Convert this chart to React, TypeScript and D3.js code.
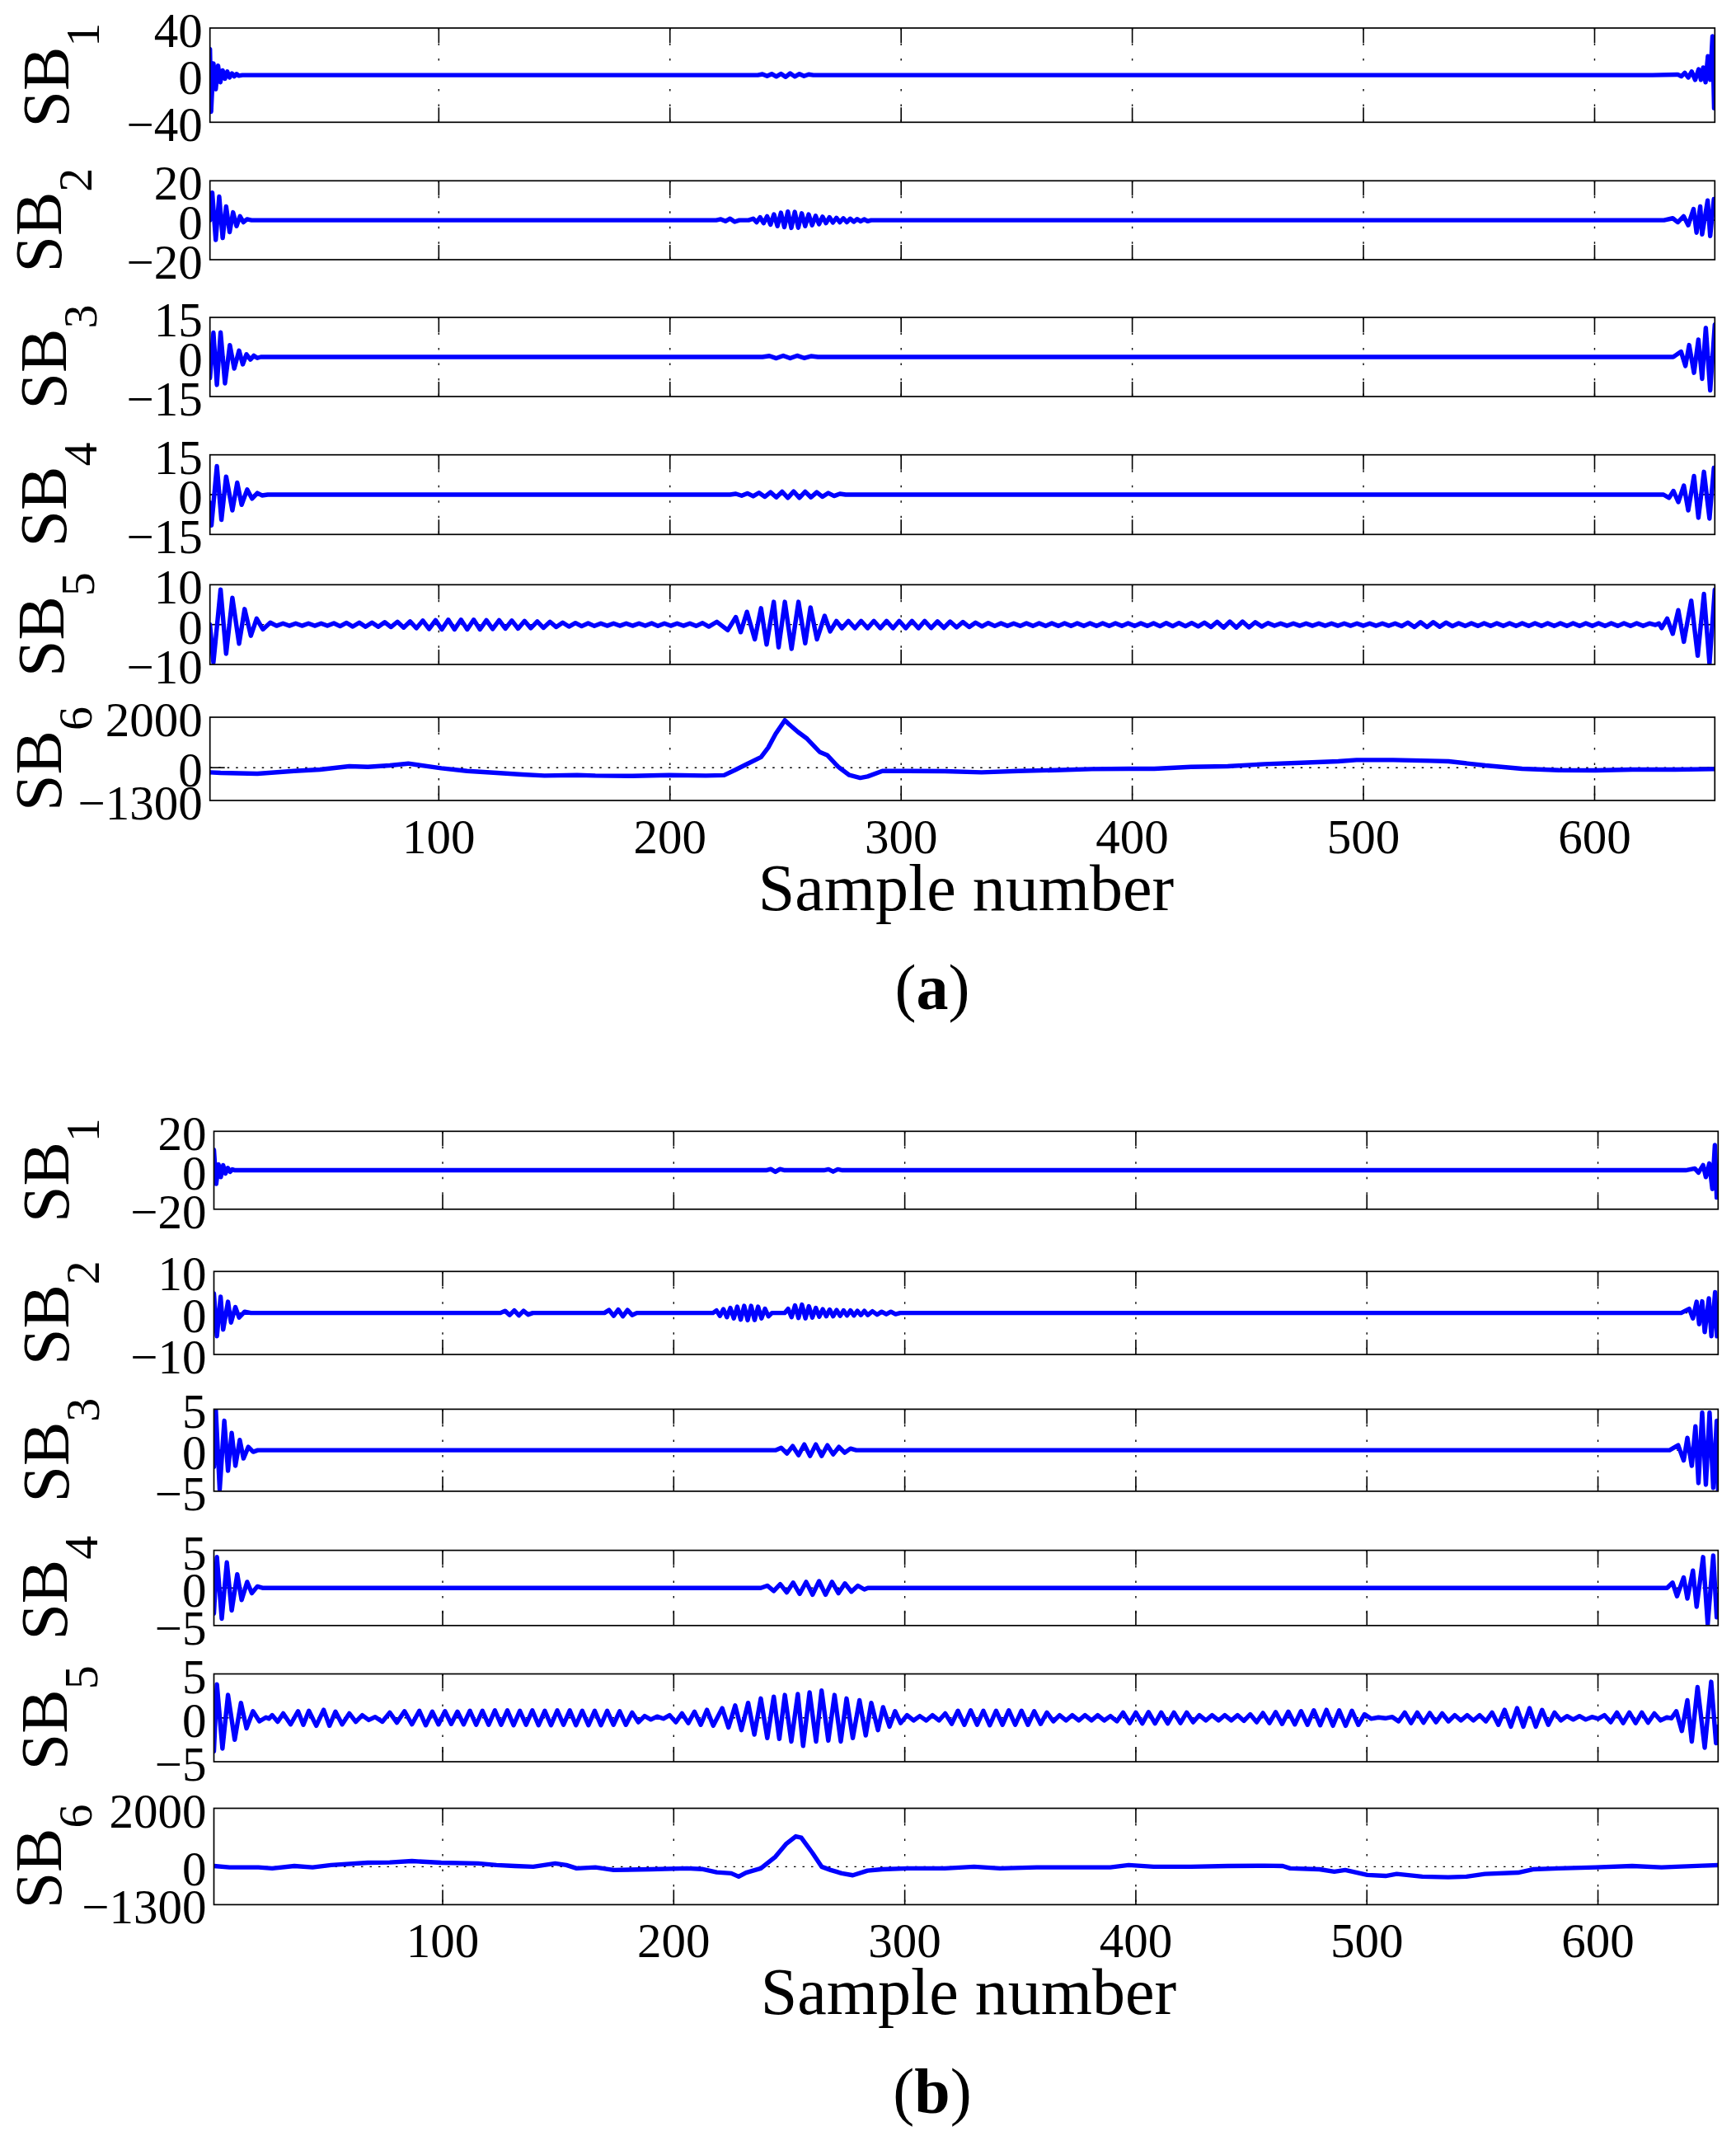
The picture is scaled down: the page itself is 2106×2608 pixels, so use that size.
import * as d3 from 'd3';

type Pt = [number, number];

const sampleTicks = [100, 200, 300, 400, 500, 600];
const sampleDomain: [number, number] = [1, 652];
const bandIndex = ['1', '2', '3', '4', '5', '6'];
const limitsA: [number, number][] = [[-40, 40], [-20, 20], [-15, 15], [-15, 15], [-10, 10], [-1300, 2000]];
const limitsB: [number, number][] = [[-20, 20], [-10, 10], [-5, 5], [-5, 5], [-5, 5], [-1300, 2000]];

// ---- panel (a): sub-band signals, turning points ----
const sb1A: Pt[] = [
  [1, 22], [1.5, -31], [2.5, 10], [3.5, -12], [4.5, 8], [5.5, -6], [6.5, 4], [7.5, -3], [8.5, 3], [9.5, -2],
  [10.5, 1.5], [11.5, -1], [12.5, 1], [13.5, -0.5], [15, 0],
  [238, 0], [240, 0.8], [242, -0.8], [244, 1], [246, -1.2], [248, 1.2], [250, -1.5], [252, 1.5], [254, -1.2],
  [256, 1], [258, -0.8], [260, 0.6], [262, 0],
  [625, 0], [636, 0.5], [637.5, -1], [639, 2], [640.5, -2], [642, 3], [643.5, -4], [645, 5], [646, -4],
  [647, 6.5], [648, -6], [649, 16], [650, -4], [651, 33], [651.7, -28], [652, -10],
];
const sb2A: Pt[] = [
  [1, 0], [2, 14], [3.5, -10], [5, 12], [6.5, -9], [8, 7], [9.5, -6], [11, 4], [12.5, -3], [14, 2], [15.5, -1],
  [17, 0.5], [19, 0],
  [220, 0], [222, 0.5], [224, -0.5], [226, 0.8], [228, -0.8], [230, 0], [234, 0], [236, 0.8], [237.5, -1],
  [239, 1.5], [240.5, -1.5], [242, 2], [243.5, -2.2], [245, 3], [246.5, -3], [248, 3.8], [249.5, -3.5],
  [251, 4.4], [252.5, -3.9], [254, 4.2], [255.5, -3.8], [257, 3.5], [258.5, -3], [260, 3], [261.5, -2.5],
  [263, 2.2], [264.5, -2], [266, 1.8], [267.5, -1.5], [269, 1.5], [270.5, -1.2], [272, 1.2], [273.5, -1],
  [275, 1], [276.5, -1], [278, 0.8], [279.5, -0.8], [281, 0.6], [282.5, -0.6], [284, 0.5], [285.5, -0.5], [287, 0],
  [630, 0], [633.8, 1], [636, -1], [638.5, 2], [640.5, -2.5], [642.8, 5.7], [644.1, -6.3], [645.7, 7],
  [646.5, -7.2], [648.9, 10], [650, -8], [651.6, 10.7], [652, 5],
];
const sb3A: Pt[] = [
  [1, -8], [2.5, 9.2], [4, -10.6], [5.6, 9.3], [7.5, -10], [9.6, 4.5], [11.5, -4.4], [13.6, 2.4], [15.2, -2.8],
  [16.8, 1], [18.5, -1], [20, 0.5], [21.5, -0.4], [23, 0],
  [240, 0], [243, 0.4], [246, -0.5], [249, 0.5], [252, -0.5], [255, 0.5], [258, -0.4], [261, 0.3], [264, 0],
  [634, 0], [637.4, 2], [639.3, -3.4], [640.9, 4.5], [643, -6], [644.9, 6.6], [646.5, -8.3], [648.1, 11],
  [650, -12.7], [652, 12.3],
];
const sb4A: Pt[] = [
  [1, -3], [1.65, -11.6], [4, 10.7], [5.96, -9.5], [8, 6.8], [10.7, -5.9], [12.8, 4.5], [14.7, -3.8], [17.1, 1.9],
  [19.2, -1.5], [21.5, 0.6], [23.5, -0.3], [26, 0],
  [226, 0], [228.5, 0.3], [231, -0.4], [233.5, 0.5], [236, -0.6], [238.5, 0.7], [241, -0.8], [243.5, 0.9],
  [246, -1], [248.5, 1.1], [251, -1.2], [253.5, 1.2], [256, -1.2], [258.5, 1.1], [261, -1], [263.5, 0.9],
  [266, -0.8], [268.5, 0.6], [271, -0.5], [273.5, 0.3], [276, 0],
  [627, 0], [629.8, 0], [632.2, -1.2], [634.1, 1.4], [636.2, -2.8], [638.6, 3.4], [640.5, -5.9], [643, 7],
  [644.9, -8.7], [647.3, 8.6], [649.7, -9], [651.6, 10.1], [652, 6],
];
const sb5A: Pt[] = [
  [1, 0], [2.5, -9.5], [5.6, 8.8], [8, -7.3], [10.7, 6.7], [13.6, -4.8], [16, 3.9], [18.7, -2.8], [21.2, 1.5],
  [23.9, -1.2], [27.1, 0.5], [29.8, -0.3], [32.6, 0.3], [35.3, -0.3], [38.1, 0.3], [40.8, -0.3], [43.6, 0.3],
  [46.3, -0.3], [49.1, 0.3], [51.8, -0.3], [54.6, 0.35], [57.3, -0.4], [60.1, 0.45], [62.8, -0.5], [65.6, 0.5],
  [68.3, -0.55], [71.1, 0.5], [73.8, -0.55], [76.6, 0.6], [79.3, -0.6], [82.1, 0.7], [84.8, -0.75], [87.6, 0.8],
  [90.3, -0.9], [93.1, 1], [95.8, -1.1], [98.6, 1.1], [101.3, -1.2], [104.1, 1.2], [106.8, -1.2], [109.6, 1.2],
  [112.3, -1.2], [115.1, 1.2], [117.8, -1.2], [120.6, 1.1], [123.3, -1.1], [126.1, 1.1], [128.8, -1], [131.6, 1],
  [134.3, -1], [137.1, 0.9], [139.8, -0.9], [142.6, 0.8], [145.3, -0.8], [148.1, 0.7], [150.8, -0.6], [153.6, 0.5],
  [156.3, -0.5], [159.1, 0.4], [161.8, -0.4], [164.6, 0.35], [167.3, -0.35], [170.1, 0.3], [172.8, -0.3],
  [175.6, 0.3], [178.3, -0.3], [181.1, 0.3], [183.8, -0.3], [186.6, 0.3], [189.3, -0.3], [192.1, 0.35],
  [194.8, -0.35], [197.6, 0.3], [200.3, -0.3], [203.1, 0.3], [205.8, -0.3], [208.6, 0.3], [211.3, -0.35],
  [214.1, 0.4], [216.8, -0.5], [220.3, 0.7], [225, -1.4], [228.5, 1.9], [230.6, -1.9], [233.3, 3.2], [236.7, -3.7],
  [239.4, 4.1], [241.8, -5], [244.9, 5.7], [247, -5.7], [249.7, 5.7], [252.6, -6.1], [255.6, 5.7], [258.5, -4.7],
  [260.8, 4.3], [263.6, -3.7], [266.9, 2.2], [269.3, -1.7], [272, 0.9], [274.4, -0.9], [277.2, 0.9], [280, -0.9],
  [282.7, 0.9], [285.5, -0.9], [288.2, 0.9], [291, -0.9], [293.7, 0.9], [296.5, -0.9], [299.2, 0.9], [302, -0.9],
  [304.7, 0.9], [307.5, -0.9], [310.2, 0.9], [313, -0.85], [315.7, 0.8], [318.5, -0.8], [321.2, 0.75], [324, -0.7],
  [326.7, 0.65], [329.5, -0.6], [332.2, 0.5], [335, -0.45], [337.7, 0.4], [340.5, -0.35], [343.2, 0.35],
  [346, -0.35], [348.7, 0.3], [351.5, -0.35], [354.2, 0.35], [357, -0.35], [359.7, 0.35], [362.5, -0.35],
  [365.2, 0.35], [368, -0.35], [370.7, 0.35], [373.5, -0.35], [376.2, 0.35], [379, -0.35], [381.7, 0.35],
  [384.5, -0.35], [387.2, 0.35], [390, -0.35], [392.7, 0.35], [395.5, -0.35], [398.2, 0.35], [401, -0.35],
  [403.7, 0.35], [406.5, -0.35], [409.2, 0.35], [412, -0.4], [414.7, 0.4], [417.5, -0.4], [420.2, 0.4],
  [423, -0.4], [425.7, 0.4], [428.5, -0.45], [431.2, 0.5], [434, -0.6], [436.7, 0.7], [439.5, -0.75],
  [442.2, 0.75], [445, -0.75], [447.7, 0.75], [450.5, -0.7], [453.2, 0.6], [456, -0.5], [458.7, 0.4],
  [461.5, -0.3], [464.2, 0.3], [467, -0.3], [469.7, 0.3], [472.5, -0.3], [475.2, 0.3], [478, -0.3], [480.7, 0.3],
  [483.5, -0.3], [486.2, 0.3], [489, -0.3], [491.7, 0.3], [494.5, -0.3], [497.2, 0.3], [500, -0.3], [502.7, 0.3],
  [505.5, -0.3], [508.2, 0.3], [511, -0.3], [513.7, 0.3], [516.5, -0.4], [519.2, 0.5], [522, -0.6], [524.7, 0.6],
  [527.5, -0.6], [530.2, 0.6], [533, -0.55], [535.7, 0.5], [538.5, -0.4], [541.2, 0.35], [544, -0.35],
  [546.7, 0.35], [549.5, -0.35], [552.2, 0.35], [555, -0.35], [557.7, 0.35], [560.5, -0.35], [563.2, 0.35],
  [566, -0.35], [568.7, 0.35], [571.5, -0.35], [574.2, 0.35], [577, -0.35], [579.7, 0.35], [582.5, -0.35],
  [585.2, 0.35], [588, -0.35], [590.7, 0.35], [593.5, -0.35], [596.2, 0.35], [599, -0.35], [601.7, 0.35],
  [604.5, -0.35], [607.2, 0.35], [610, -0.35], [612.7, 0.35], [615.5, -0.35], [618.2, 0.35], [621, -0.35],
  [623.7, 0.3], [626.3, -0.1], [627.8, 0.3], [629, -0.9], [631.4, 1.5], [633.8, -2.3], [636.2, 3.6], [638.6, -4.3],
  [641.8, 6], [644.6, -7.8], [647.3, 7.7], [649.7, -9.8], [652, 8.8],
];
const sb6A: Pt[] = [
  [1, -185], [5.6, -207], [21.5, -240], [37.4, -130], [48.6, -76], [61.3, 55], [69.3, 33], [78.8, 90], [86.8, 164],
  [90, 120], [101.1, -22], [112.2, -130], [125, -207], [136.1, -272], [145.7, -316], [159.8, -294], [167.7, -316],
  [183.7, -327], [199.6, -294], [215.5, -316], [223.4, -300], [228, -100], [233, 130], [239.4, 420], [242.5, 796],
  [245.7, 1340], [249.7, 1880], [251.3, 1740], [255.3, 1420], [259.3, 1150], [264.8, 620], [268, 500], [272.8, 33],
  [277.6, -294], [282.3, -403], [285.5, -349], [291.9, -131], [303, -131], [318.9, -140], [334.8, -185],
  [350.7, -131], [366.6, -98], [382.5, -55], [398.4, -44], [409.5, -44], [425.4, 33], [441.3, 55], [457.2, 142],
  [473.2, 196], [489.1, 251], [497, 305], [512.9, 305], [528.8, 273], [536.8, 251], [552.7, 87], [568.6, -44],
  [584.5, -98], [600.4, -109], [616.3, -76], [632.3, -76], [652, -55],
];

// ---- panel (b) ----
const sb1B: Pt[] = [
  [1, 10.5], [2, -7], [3, 3], [4, -3.5], [5, 2.6], [6, -1.7], [7, 1.2], [8, -0.8], [9, 0.5], [10, 0],
  [240, 0], [242, 0.6], [244, -0.8], [246, 0.6], [248, 0], [265, 0], [267, 0.5], [269, -0.7], [271, 0.5], [273, 0],
  [638, 0], [641.9, 0.9], [643.5, -1.2], [645.5, 2.6], [646.7, -3.5], [648.2, 3.5], [649.5, -9.6], [650.6, 13],
  [651.4, -14], [652, -5],
];
const sb2B: Pt[] = [
  [1, 4.7], [2.3, -5.6], [3.9, 3.9], [5, -4], [7.1, 2.7], [8.4, -2.3], [10.3, 1.4], [11.9, -1.1], [14.3, 0.3], [17, 0],
  [125, 0], [127, 0.5], [129, -0.5], [131, 0.6], [133, -0.6], [135, 0.5], [137, -0.4], [139, 0],
  [170, 0], [172, 0.7], [174, -0.7], [176, 0.8], [178, -0.8], [180, 0.7], [182, -0.5], [184, 0],
  [217, 0], [218.5, 0.6], [220, -0.7], [221.5, 0.9], [223, -1], [224.5, 1.2], [226, -1.3], [227.5, 1.5],
  [229, -1.6], [230.5, 1.7], [232, -1.75], [233.5, 1.7], [235, -1.7], [236.5, 1.5], [238, -1.3], [239.5, 1],
  [241, -0.8], [242.5, 0], [248, 0], [249.5, 1], [251, -1], [252.5, 1.8], [254, -1.2], [255.5, 2], [257, -1.3],
  [258.5, 1.6], [260, -1.1], [261.5, 1.2], [263, -0.9], [264.5, 0.9], [266, -0.8], [267.5, 0.8], [269, -0.8],
  [270.5, 0.7], [272, -0.7], [273.5, 0.6], [275, -0.6], [276.5, 0.6], [278, -0.6], [279.5, 0.5], [281, -0.5],
  [282.5, 0.5], [284, -0.5], [286, 0.4], [288, -0.4], [290, 0.3], [292, -0.3], [294, 0.3], [296, -0.3], [298, 0],
  [636, 0], [639.5, 1], [641.1, -1.3], [642.7, 2.7], [643.8, -2.7], [645.1, 2.8], [646.2, -4.6], [648, 3.5],
  [649.1, -5.6], [650.7, 5], [651.5, -5.6], [652, 0],
];
const sb3B: Pt[] = [
  [1, -2], [1.8, 5], [3.5, -4.8], [5.5, 3.6], [7.1, -2.5], [8.7, 2.1], [10.3, -1.9], [12.2, 1.25], [13.8, -1],
  [15.9, 0.4], [18, -0.2], [20, 0],
  [244, 0], [246.5, 0.3], [249, -0.4], [251.5, 0.5], [254, -0.6], [256.5, 0.7], [259, -0.7], [261.5, 0.7],
  [264, -0.7], [266.5, 0.6], [269, -0.5], [271.5, 0.4], [274, -0.3], [276.5, 0.2], [279, 0],
  [631, 0], [634.7, 0.6], [637.1, -1.25], [638.7, 1.5], [640.6, -1.9], [642.2, 2.9], [643.5, -4], [645.1, 4.6],
  [646.7, -4.2], [648.3, 4.6], [649.9, -4.6], [651.4, 3.6], [652, -4.8],
];
const sb4B: Pt[] = [
  [1, -3.4], [2.3, 4.1], [4.4, -4.1], [6.6, 3.4], [8.7, -3], [11.1, 1.8], [13, -1.6], [15.4, 0.8], [17.4, -0.7],
  [19.8, 0.2], [22, 0],
  [237.7, 0], [240.5, 0.3], [243.3, -0.4], [246.1, 0.5], [248.9, -0.6], [251.7, 0.7], [254.5, -0.8], [257.3, 0.8],
  [260.1, -0.9], [262.9, 0.9], [265.7, -0.9], [268.5, 0.8], [271.3, -0.7], [274.1, 0.6], [276.9, -0.5],
  [279.7, 0.3], [282.5, -0.2], [284, 0],
  [627, 0], [629.9, 0], [632.3, 0.7], [634.2, -1.1], [637.1, 1.4], [638.7, -1.4], [641.1, 2.3], [642.7, -2.5],
  [645.5, 4.1], [647.5, -4.8], [649.9, 4.3], [651.4, -3.9], [652, -1],
];
const sb5B: Pt[] = [
  [1, -3.8], [2.3, 3.8], [4.7, -3.5], [7.1, 2.6], [10, -2.5], [12.7, 1.7], [15.1, -1.2], [17.9, 0.75], [20.7, -0.4],
  [23.5, 0.05], [24.8, -0.1], [26.2, 0.3], [28.6, -0.45], [31, 0.5], [34.2, -0.75], [37.4, 0.75], [39.7, -0.8],
  [42.1, 0.8], [45.3, -0.9], [48.5, 0.9], [51, -0.9], [53.6, 0.7], [56.5, -0.75], [59.6, 0.5], [62.4, -0.45],
  [65.2, 0.3], [68, -0.25], [70.8, 0.1], [73.9, -0.45], [77.1, 0.6], [80.2, -0.55], [83.5, 0.75], [86.7, -0.75],
  [89.9, 0.8], [92.7, -0.85], [95.5, 0.7], [98.2, -0.75], [101, 0.75], [103.7, -0.7], [106.4, 0.7], [109.1, -0.75],
  [111.8, 0.8], [114.5, -0.8], [117.2, 0.8], [119.9, -0.8], [122.6, 0.85], [125.3, -0.8], [128, 0.85],
  [130.7, -0.85], [133.4, 0.8], [136.1, -0.8], [138.8, 0.85], [141.5, -0.85], [144.2, 0.8], [146.9, -0.85],
  [149.6, 0.85], [152.3, -0.8], [155, 0.85], [157.7, -0.85], [160.4, 0.8], [163.1, -0.85], [165.8, 0.8],
  [168.5, -0.85], [171.2, 0.8], [173.9, -0.8], [176.6, 0.75], [179.3, -0.8], [182, 0.6], [184.7, -0.5],
  [187.4, 0.2], [190.1, -0.2], [192.8, 0.15], [195.5, -0.1], [198.2, 0.3], [200.9, -0.5], [203.6, 0.5],
  [206.3, -0.6], [209, 0.7], [211.7, -0.8], [214.4, 0.9], [217.1, -0.9], [221, 1.1], [223.7, -1.1], [226.6, 1.4],
  [229.3, -1.4], [232.2, 1.7], [234.9, -1.9], [237.7, 2.2], [240.5, -2.3], [243.3, 2.4], [245.7, -2.4],
  [248.1, 2.6], [250.9, -2.7], [253.7, 2.7], [256, -3.2], [258.8, 2.9], [261.6, -2.7], [264, 3.1], [266.9, -2.6],
  [269.6, 2.6], [272.3, -2.7], [274.8, 2.2], [277.5, -2.3], [280.4, 2], [283.1, -2], [285.5, 1.7], [288.4, -1.4],
  [290.6, 1.2], [293.4, -1], [295.8, 0.75], [298.2, -0.6], [301, 0.3], [303.8, -0.3], [306.5, 0.2], [309.3, -0.3],
  [312, 0.3], [314.8, -0.3], [317.5, 0.5], [320.3, -0.7], [323, 0.8], [325.8, -0.8], [328.5, 0.85], [331.3, -0.8],
  [334, 0.8], [336.8, -0.85], [339.5, 0.8], [342.3, -0.8], [345, 0.85], [347.8, -0.8], [350.5, 0.8], [353.3, -0.8],
  [356, 0.75], [358.8, -0.7], [361.5, 0.6], [364.3, -0.4], [367, 0.3], [369.8, -0.3], [372.5, 0.3], [375.3, -0.3],
  [378, 0.3], [380.8, -0.3], [383.5, 0.3], [386.3, -0.3], [389, 0.2], [391.8, -0.4], [394.5, 0.6], [397.3, -0.6],
  [400, 0.6], [402.8, -0.65], [405.5, 0.65], [408.3, -0.65], [411, 0.6], [413.8, -0.65], [416.5, 0.6],
  [419.3, -0.6], [422, 0.6], [424.8, -0.5], [427.5, 0.3], [430.3, -0.3], [433, 0.3], [435.8, -0.3], [438.5, 0.3],
  [441.3, -0.3], [444, 0.3], [446.8, -0.35], [449.5, 0.4], [452.3, -0.5], [455, 0.55], [457.8, -0.6], [460.5, 0.65],
  [463.3, -0.7], [466, 0.7], [468.8, -0.75], [471.5, 0.75], [474.3, -0.8], [477, 0.85], [479.8, -0.85], [482.5, 0.9],
  [485.3, -0.9], [488, 0.85], [490.8, -0.9], [493.5, 0.8], [496.3, -0.8], [499, 0.4], [501.8, -0.1], [505, 0.05],
  [508, -0.05], [511, 0.1], [513.7, -0.4], [516.4, 0.6], [519.1, -0.6], [521.8, 0.6], [524.5, -0.55], [527.2, 0.55],
  [529.9, -0.5], [532.6, 0.5], [535.3, -0.4], [538, 0.3], [540.7, -0.3], [543.4, 0.3], [546.1, -0.3], [548.8, 0.3],
  [551.5, -0.4], [554.2, 0.6], [556.9, -0.8], [559.6, 0.9], [562.3, -1], [565, 1.1], [567.7, -1], [570.4, 1.1],
  [573.1, -1], [575.8, 0.9], [578.5, -0.8], [581.2, 0.6], [583.9, -0.3], [586.6, 0.2], [589.3, -0.2], [592, 0.2],
  [594.7, -0.2], [597.4, 0.1], [600.1, -0.1], [602.8, 0.3], [605.5, -0.5], [608.2, 0.6], [610.9, -0.6],
  [613.6, 0.6], [616.3, -0.6], [619, 0.6], [621.7, -0.55], [624.4, 0.5], [627.1, -0.3], [629.8, 0.05],
  [631.8, -0.05], [633.9, 0.75], [636.3, -1.5], [638.7, 2], [640.6, -2.7], [643.1, 3.5], [646.2, -3.4], [649, 4.1],
  [651.1, -2.9], [652, -1],
];
const sb6B: Pt[] = [
  [1, 23], [7.8, -23], [20.3, -23], [26.2, -57], [35.8, 23], [43.7, -23], [51.7, 57], [67.6, 136], [77.1, 147],
  [86.7, 192], [99.4, 136], [115.3, 113], [123.3, 57], [131.2, 23], [139.2, 0], [148.7, 113], [153.5, 57],
  [158, -57], [166.1, -23], [174, -113], [189.9, -90], [205.8, -57], [212.2, -80], [218.6, -192], [224.9, -226],
  [228.1, -339], [231.3, -203], [237.7, -57], [244, 339], [248.8, 791], [252.8, 1040], [255.2, 994], [260, 475],
  [264, 0], [267.9, -113], [272.7, -226], [277.5, -294], [283.9, -136], [290.2, -90], [301.4, -57], [317.3, -57],
  [330, 0], [341.2, -57], [357.1, -23], [373, -23], [388.9, -23], [396.9, 57], [407.7, 0], [423.8, 0], [439.7, 23],
  [455.6, 34], [463.6, 23], [466.8, -57], [479.5, -90], [485.9, -170], [490.6, -113], [500.2, -283], [508.1, -316],
  [512.9, -249], [524, -339], [535.2, -362], [543.1, -339], [551.1, -249], [565.4, -203], [571.8, -90], [583, -57],
  [598.9, -23], [614.8, 23], [627.5, -23], [633.9, 0], [652, 57],
];

const seriesA = [sb1A, sb2A, sb3A, sb4A, sb5A, sb6A];
const seriesB = [sb1B, sb2B, sb3B, sb4B, sb5B, sb6B];

// ---- layout (pixels) ----
const W = 2106;
const H = 2608;
const FONT = '"Liberation Serif", "Times New Roman", Times, serif';
const BLUE = '#0000ff';
const TICK = 18;

interface Layout {
  left: number;
  right: number;
  rows: [number, number][];
  labelX: number[];
  titleX: number;
  captionX: number;
}

const layoutA: Layout = {
  left: 254.7,
  right: 2080.3,
  rows: [[34, 148.3], [219.3, 315], [385, 481], [551.7, 648.3], [709.3, 806], [870, 971]],
  labelX: [82.6, 73.7, 79.5, 80.4, 76.8, 73.7],
  titleX: 1172,
  captionX: 1131,
};
const layoutB: Layout = {
  left: 259.5,
  right: 2084.3,
  rows: [[1372.3, 1466.8], [1542.3, 1643], [1709.4, 1808.9], [1880.6, 1971.8], [2030.5, 2137], [2193.5, 2310.4]],
  labelX: [83.4, 82.5, 83.4, 81.2, 81.2, 73.6],
  titleX: 1175,
  captionX: 1131,
};

const fmt = (v: number) => (v < 0 ? '\u2212' + Math.abs(v) : String(v));

function Panel({ id, layout, series, limits, tag }: {
  id: string; layout: Layout; series: Pt[][]; limits: [number, number][]; tag: string;
}) {
  const { left, right } = layout;
  const x = d3.scaleLinear().domain(sampleDomain).range([left, right]);
  const lastBottom = layout.rows[layout.rows.length - 1][1];

  return (
    <g>
      {series.map((data, i) => {
        const [top, bottom] = layout.rows[i];
        const y = d3.scaleLinear().domain(limits[i]).range([bottom, top]);
        const yTicks = [limits[i][0], 0, limits[i][1]];
        const path = d3.line<Pt>().x(d => x(d[0])).y(d => y(d[1]))(data) ?? '';
        const y0 = y(0);
        const clip = `clip-${id}-${i}`;
        return (
          <g key={i}>
            <defs>
              <clipPath id={clip}>
                <rect x={left} y={top} width={right - left} height={bottom - top} />
              </clipPath>
            </defs>
            {sampleTicks.map(t => (
              <line key={'g' + t} x1={x(t)} x2={x(t)} y1={top} y2={bottom}
                stroke="#000" strokeWidth={1.4} strokeDasharray="2.5,16" />
            ))}
            <line x1={left} x2={right} y1={y0} y2={y0} stroke="#000" strokeWidth={1.4} strokeDasharray="2.5,8" />
            {sampleTicks.map(t => (
              <g key={'t' + t} stroke="#000" strokeWidth={1.6}>
                <line x1={x(t)} x2={x(t)} y1={bottom} y2={bottom - TICK} />
                <line x1={x(t)} x2={x(t)} y1={top} y2={top + TICK} />
              </g>
            ))}
            <g stroke="#000" strokeWidth={1.6}>
              <line x1={left} x2={left + TICK} y1={y0} y2={y0} />
              <line x1={right - TICK} x2={right} y1={y0} y2={y0} />
            </g>
            <path d={path} fill="none" stroke={BLUE} strokeWidth={5.4}
              strokeLinejoin="round" strokeLinecap="round" clipPath={`url(#${clip})`} />
            <rect x={left} y={top} width={right - left} height={bottom - top}
              fill="none" stroke="#000" strokeWidth={1.7} />
            {yTicks.map(v => (
              <text key={'y' + v} x={left - 9} y={y(v) + 23} textAnchor="end"
                fontFamily={FONT} fontSize={59}>{fmt(v)}</text>
            ))}
            <text transform={`translate(${layout.labelX[i]},${(top + bottom) / 2}) rotate(-90)`}
              textAnchor="middle" fontFamily={FONT} fontSize={80}>
              SB<tspan fontSize={58} dy={37}>{bandIndex[i]}</tspan>
            </text>
          </g>
        );
      })}
      {sampleTicks.map(t => (
        <text key={'x' + t} x={x(t)} y={lastBottom + 64} textAnchor="middle"
          fontFamily={FONT} fontSize={59}>{t}</text>
      ))}
      <text x={layout.titleX} y={lastBottom + 133} textAnchor="middle" fontFamily={FONT} fontSize={80}>
        Sample number
      </text>
      <text x={layout.captionX} y={lastBottom + 253} textAnchor="middle" fontFamily={FONT} fontSize={78}>
        (<tspan fontWeight="bold">{tag}</tspan>)
      </text>
    </g>
  );
}

export default function App() {
  return (
    <svg width={W} height={H} viewBox={`0 0 ${W} ${H}`}
      style={{ position: 'absolute', left: 0, top: 0, background: '#fff' }}>
      <rect width={W} height={H} fill="#fff" />
      <Panel id="a" layout={layoutA} series={seriesA} limits={limitsA} tag="a" />
      <Panel id="b" layout={layoutB} series={seriesB} limits={limitsB} tag="b" />
    </svg>
  );
}
